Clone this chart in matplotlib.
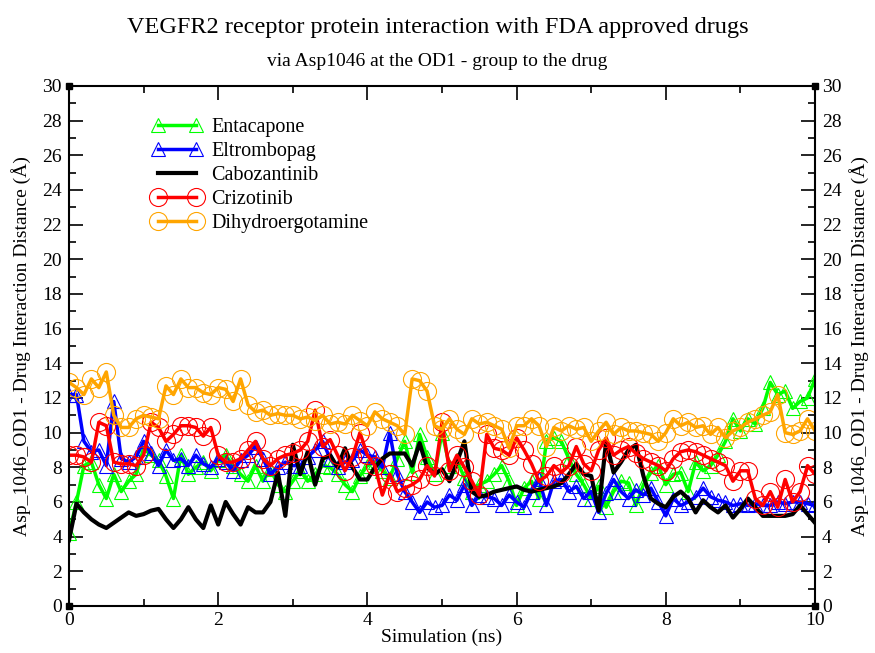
import numpy as np
import matplotlib
matplotlib.use("Agg")
import matplotlib.pyplot as plt

plt.rcParams['font.family'] = ['Liberation Serif', 'DejaVu Serif']

# Time axis (ns), one frame every 0.1 ns
time_ns = np.round(np.arange(0, 10.01, 0.1), 1)

entacapone = [
    4.2, 6.0, 8.1, 8.3, 7.0, 6.2, 7.6, 6.6, 7.2, 7.6,
    9.1, 8.7, 8.4, 7.5, 6.2, 8.7, 7.6, 8.0, 8.3, 7.8,
    8.4, 8.7, 8.1, 7.6, 7.2, 8.1, 7.2, 7.9, 7.0, 6.6,
    7.2, 7.8, 7.2, 7.6, 8.1, 8.0, 7.6, 7.0, 6.6, 7.5,
    8.1, 8.3, 7.8, 7.4, 8.5, 9.5, 7.7, 9.9, 8.6, 7.6,
    10.0, 8.1, 8.4, 7.4, 6.6, 7.0, 7.2, 7.6, 8.1, 7.2,
    5.8, 6.8, 7.2, 6.2, 9.5, 9.7, 9.5, 8.5, 7.6, 7.0,
    6.2, 6.9, 5.7, 6.6, 7.2, 7.1, 5.8, 7.0, 7.7, 8.1,
    7.0, 7.6, 7.7, 6.6, 8.3, 7.8, 8.1, 8.7, 9.5, 10.8,
    10.1, 10.8, 10.5, 11.4, 12.9, 12.2, 12.4, 11.4, 11.8, 12.0,
    13.1]

eltrombopag = [
    12.2, 12.2, 9.5, 8.9, 9.0, 8.1, 11.8, 8.5, 8.3, 8.6,
    9.5, 8.8, 8.1, 9.0, 8.4, 8.5, 8.1, 8.7, 8.2, 8.0,
    8.5, 8.3, 7.8, 8.4, 8.7, 9.2, 8.5, 7.6, 8.0, 8.3,
    8.1, 8.1, 8.6, 9.0, 9.5, 8.5, 8.0, 8.3, 8.4, 9.0,
    8.7, 8.6, 8.0, 10.0, 7.6, 6.6, 6.0, 5.4, 6.0, 5.7,
    5.8, 6.4, 6.1, 7.0, 5.8, 6.4, 6.3, 6.2, 5.8, 6.4,
    6.0, 5.7, 6.6, 7.3, 5.8, 7.2, 7.3, 6.6, 6.9, 6.2,
    6.6, 5.4, 6.5, 7.3, 6.6, 6.2, 6.7, 6.4, 6.8, 6.0,
    5.2, 6.2, 5.8, 6.0, 6.3, 6.8, 6.3, 6.1, 6.0, 5.8,
    5.9, 5.8, 5.9, 5.8, 5.8, 6.0, 5.9, 6.0, 6.0, 5.9,
    5.8]

cabozantinib = [
    3.8, 5.9, 5.4, 5.0, 4.7, 4.5, 4.8, 5.1, 5.4, 5.2,
    5.3, 5.5, 5.6, 5.0, 4.5, 5.0, 5.7, 5.0, 4.5, 5.8,
    4.7, 6.0, 5.3, 4.7, 5.7, 5.4, 5.4, 6.0, 7.7, 5.2,
    9.3, 7.6, 8.9, 7.0, 8.5, 8.7, 8.0, 9.1, 8.0, 7.3,
    7.3, 8.0, 8.5, 8.8, 8.8, 8.8, 8.1, 9.4, 8.0, 7.6,
    7.9, 7.2, 8.3, 9.5, 6.6, 6.3, 6.4, 6.6, 6.7, 6.8,
    6.9, 6.7, 6.6, 6.7, 6.8, 6.9, 7.1, 7.6, 8.2, 7.6,
    7.5, 5.5, 9.5, 7.7, 8.3, 9.0, 9.3, 7.5, 6.2, 5.9,
    5.7, 6.3, 6.6, 6.2, 5.4, 6.1, 5.7, 5.4, 5.8, 5.1,
    5.6, 6.2, 5.7, 5.2, 5.2, 5.2, 5.2, 5.3, 5.8, 5.3,
    4.8]

crizotinib = [
    8.7, 8.7, 8.6, 8.3, 10.6, 10.4, 8.3, 8.2, 8.2, 8.1,
    8.7, 10.6, 10.3, 9.5, 9.9, 10.4, 10.4, 10.3, 9.8, 10.3,
    8.7, 8.3, 8.3, 8.5, 9.0, 9.5, 8.5, 8.1, 8.5, 8.7,
    8.8, 9.0, 9.5, 11.3, 9.2, 9.6, 8.7, 7.8, 8.6, 10.0,
    8.7, 8.1, 6.4, 7.6, 6.6, 6.8, 7.0, 7.3, 8.1, 7.5,
    10.6, 7.8, 8.7, 8.0, 7.2, 6.4, 9.9, 9.1, 9.0, 8.7,
    9.7, 9.0, 8.2, 7.2, 7.5, 8.1, 7.7, 8.1, 9.2, 8.2,
    7.8, 9.0, 9.7, 8.7, 9.0, 9.2, 8.8, 8.5, 8.3, 8.1,
    7.8, 8.5, 8.9, 9.0, 8.9, 8.7, 8.5, 8.3, 8.1, 7.2,
    7.8, 7.8, 6.2, 5.8, 6.6, 5.7, 7.3, 6.0, 6.6, 8.1,
    7.6]

dihydroergotamine = [
    12.9, 12.6, 12.2, 13.1, 12.6, 13.5, 11.0, 10.3, 10.3, 10.8,
    11.0, 10.9, 10.8, 12.7, 12.2, 13.1, 12.6, 12.6, 12.3, 12.2,
    12.6, 12.5, 11.8, 13.1, 11.6, 11.2, 11.3, 11.0, 11.1, 11.0,
    11.0, 10.8, 10.9, 10.7, 11.0, 10.5, 10.6, 10.5, 11.0, 10.7,
    10.4, 11.2, 10.8, 10.6, 10.4, 9.9, 13.1, 13.0, 12.4, 10.4,
    10.2, 10.8, 10.2, 9.9, 10.8, 10.5, 10.6, 10.4, 10.2, 9.1,
    10.4, 10.4, 10.8, 10.4, 9.2, 10.3, 10.1, 10.4, 10.2, 10.3,
    9.5, 10.1, 10.6, 9.9, 10.3, 10.1, 10.1, 10.0, 9.9, 9.5,
    10.0, 10.8, 10.4, 10.6, 10.3, 10.4, 9.9, 10.3, 9.7, 10.1,
    10.3, 10.6, 10.8, 11.0, 11.2, 12.2, 10.0, 9.9, 10.1, 10.8,
    10.1]

drug_names = ["Entacapone", "Eltrombopag", "Cabozantinib", "Crizotinib", "Dihydroergotamine"]
drug_colors = ["#00ff00", "#0000ff", "#000000", "#ff0000", "#ffa500"]
drug_markers = ["^", "^", None, "o", "o"]
drug_msize = [10, 10, 0, 13, 13]

fig = plt.figure(figsize=(8.75, 6.53), dpi=100)
ax = fig.add_axes([69 / 875, 1 - 606 / 653, (815 - 69) / 875, (606 - 86) / 653])

series = [entacapone, eltrombopag, cabozantinib, crizotinib, dihydroergotamine]
for name, vals, col, mk, ms in zip(drug_names, series, drug_colors, drug_markers, drug_msize):
    if mk is None:
        ax.plot(time_ns, vals, color=col, lw=3, label=name)
    else:
        ax.plot(time_ns, vals, color=col, lw=2.5, marker=mk, markersize=ms,
                markerfacecolor='none', markeredgecolor=col, markeredgewidth=0.8,
                label=name)

ax.set_xlim(0, 10)
ax.set_ylim(0, 30)
ax.set_xticks(np.arange(0, 11, 2))
ax.set_xticks(np.arange(0, 11, 1), minor=True)
ax.set_yticks(np.arange(0, 31, 2))
ax.set_yticks(np.arange(0, 31, 1), minor=True)
ax.tick_params(which='both', direction='in', top=True, right=True,
               labelright=True, labelsize=14, width=1.2)
ax.tick_params(which='major', length=10)
ax.tick_params(which='minor', length=5)
ax.tick_params(axis='x', which='major', pad=4)
ax.tick_params(axis='y', which='major', pad=5)
for sp in ax.spines.values():
    sp.set_linewidth(1.5)

ylab = "Asp_1046_OD1 - Drug Interaction Distance (Å)"
ax.set_ylabel(ylab, fontsize=14, labelpad=8)
fig.text(0.993, 0.5 * ((1 - 606 / 653) + (1 - 86 / 653)), ylab, rotation=90,
         ha='right', va='center', fontsize=14)
ax.set_xlabel("Simulation (ns)", fontsize=14, labelpad=0)

# corner squares like in the Grace output
for cx, cy in [(0, 0), (1, 0), (0, 1), (1, 1)]:
    ax.plot(cx, cy, marker='s', color='black', markersize=5,
            transform=ax.transAxes, clip_on=False)

fig.text(0.5, 1 - 28 / 653, "VEGFR2 receptor protein interaction with FDA approved drugs",
         ha='center', va='center', fontsize=17.5)
fig.text(0.5, 1 - 61 / 653, "via Asp1046 at the OD1 - group to the drug",
         ha='center', va='center', fontsize=14)

leg = ax.legend(loc='upper left', bbox_to_anchor=(0.1, 0.955), frameon=False,
                numpoints=2, fontsize=14.5, handlelength=2.5, handletextpad=0.45,
                labelspacing=0.25, borderaxespad=0)

fig.savefig("out.png", dpi=100)
